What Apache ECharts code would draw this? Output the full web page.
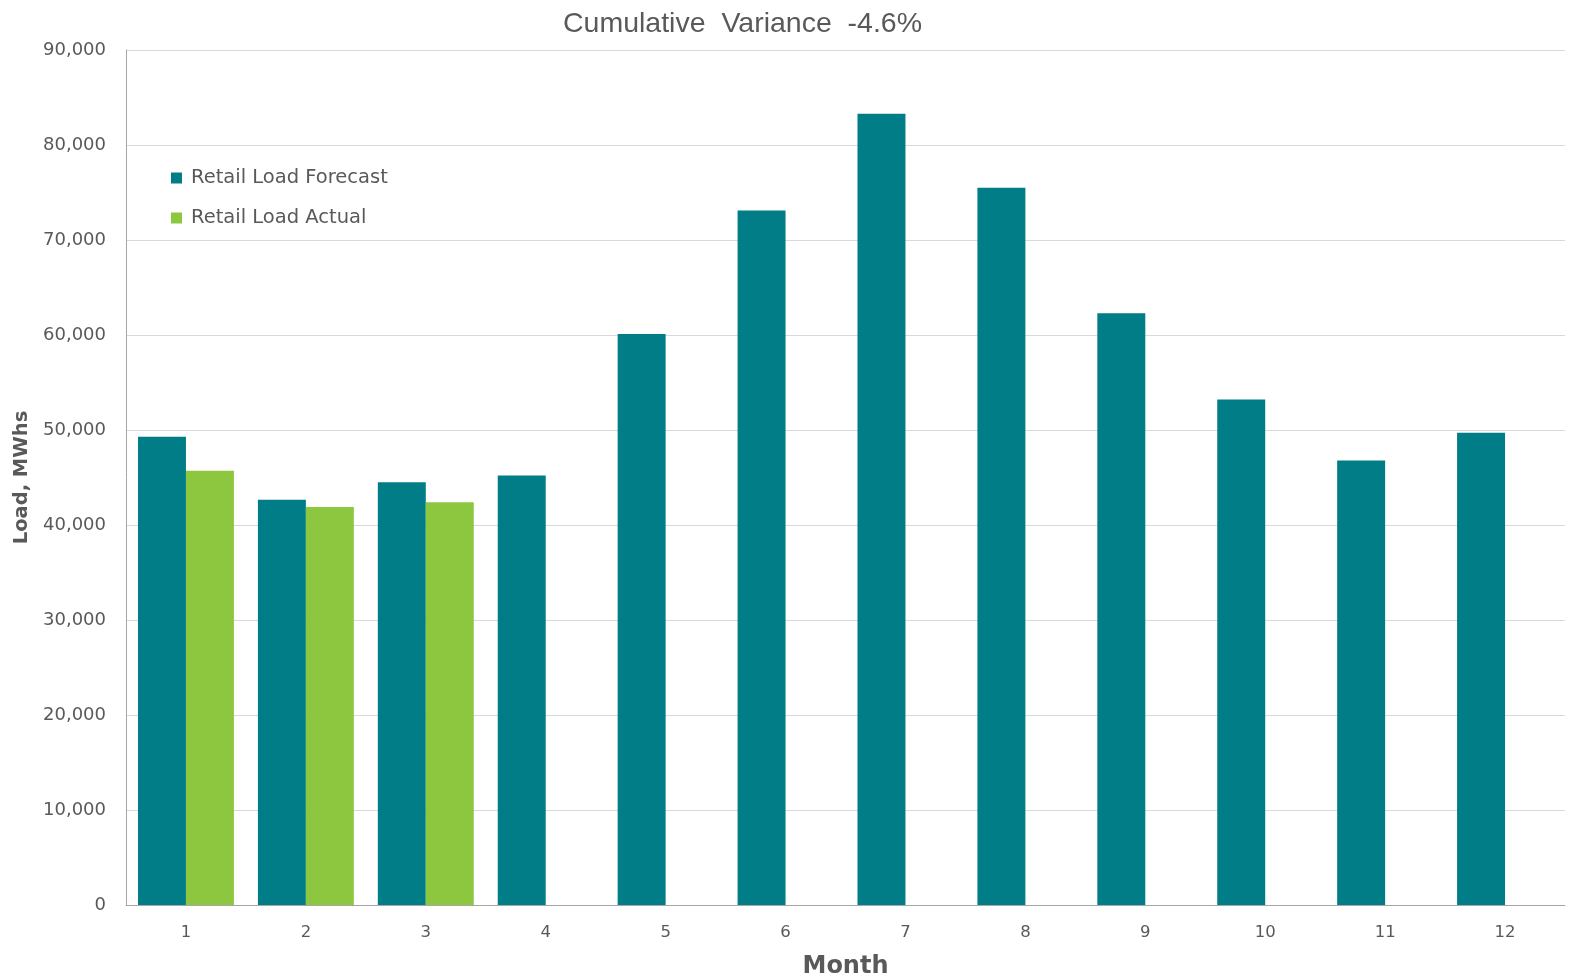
<!DOCTYPE html>
<html>
<head>
<meta charset="utf-8">
<script src="https://cdn.jsdelivr.net/npm/echarts@6/dist/echarts.min.js"></script>
<style>
html,body{margin:0;padding:0;background:#fff;}
#chart{width:1573px;height:978px;}
</style>
</head>
<body>
<div id="chart"></div>
<script>
const months = ['1','2','3','4','5','6','7','8','9','10','11','12'];
const forecast = [49300, 42650, 44500, 45200, 60100, 73100, 83300, 75500, 62300, 53200, 46800, 49700];
const actual = [45700, 41900, 42400, null, null, null, null, null, null, null, null, null];
const yTicks = [0, 10000, 20000, 30000, 40000, 50000, 60000, 70000, 80000, 90000];

const chart = echarts.init(document.getElementById('chart'));
const grey = '#595959';
chart.setOption({
  animation: false,
  backgroundColor: '#ffffff',
  title: {
    text: 'Cumulative  Variance  -4.6%',
    left: 558, top: 5,
    textStyle: { fontFamily: 'Liberation Sans', fontSize: 28.5, fontWeight: 'normal', color: grey }
  },
  legend: {
    orient: 'vertical',
    left: 166, top: 163,
    itemWidth: 11, itemHeight: 11, itemGap: 20,
    icon: 'rect',
    textStyle: { fontFamily: 'DejaVu Sans', fontSize: 19.5, color: grey, padding: [0, 0, 0, 4] },
    data: ['Retail Load Forecast', 'Retail Load Actual']
  },
  grid: { left: 126, right: 8, top: 50, bottom: 73, containLabel: false, outerBoundsMode: 'none' },
  xAxis: {
    type: 'category',
    data: months,
    name: 'Month',
    nameLocation: 'middle',
    nameGap: 50,
    nameTextStyle: { fontFamily: 'DejaVu Sans', fontSize: 24, fontWeight: 'bold', color: grey },
    axisLine: { lineStyle: { color: '#a6a6a6', width: 1 } },
    axisTick: { show: false },
    axisLabel: { fontFamily: 'DejaVu Sans', fontSize: 16.5, color: grey, margin: 19 }
  },
  yAxis: {
    type: 'value',
    min: yTicks[0], max: yTicks[yTicks.length - 1], interval: 10000,
    name: 'Load, MWhs',
    nameLocation: 'middle',
    nameGap: 91,
    nameTextStyle: { fontFamily: 'DejaVu Sans', fontSize: 19.5, fontWeight: 'bold', color: grey },
    axisLine: { show: true, lineStyle: { color: '#a6a6a6', width: 1 } },
    axisTick: { show: false },
    splitLine: { lineStyle: { color: '#d9d9d9', width: 1 } },
    axisLabel: {
      fontFamily: 'DejaVu Sans', fontSize: 18, color: grey, margin: 20,
      formatter: v => v.toLocaleString('en-US')
    }
  },
  series: [
    {
      name: 'Retail Load Forecast', type: 'bar', data: forecast,
      barGap: '0%', barCategoryGap: '20%',
      itemStyle: { color: '#017D87' }
    },
    {
      name: 'Retail Load Actual', type: 'bar', data: actual,
      barGap: '0%', barCategoryGap: '20%',
      itemStyle: { color: '#8DC63F' }
    }
  ]
});
</script>
</body>
</html>
